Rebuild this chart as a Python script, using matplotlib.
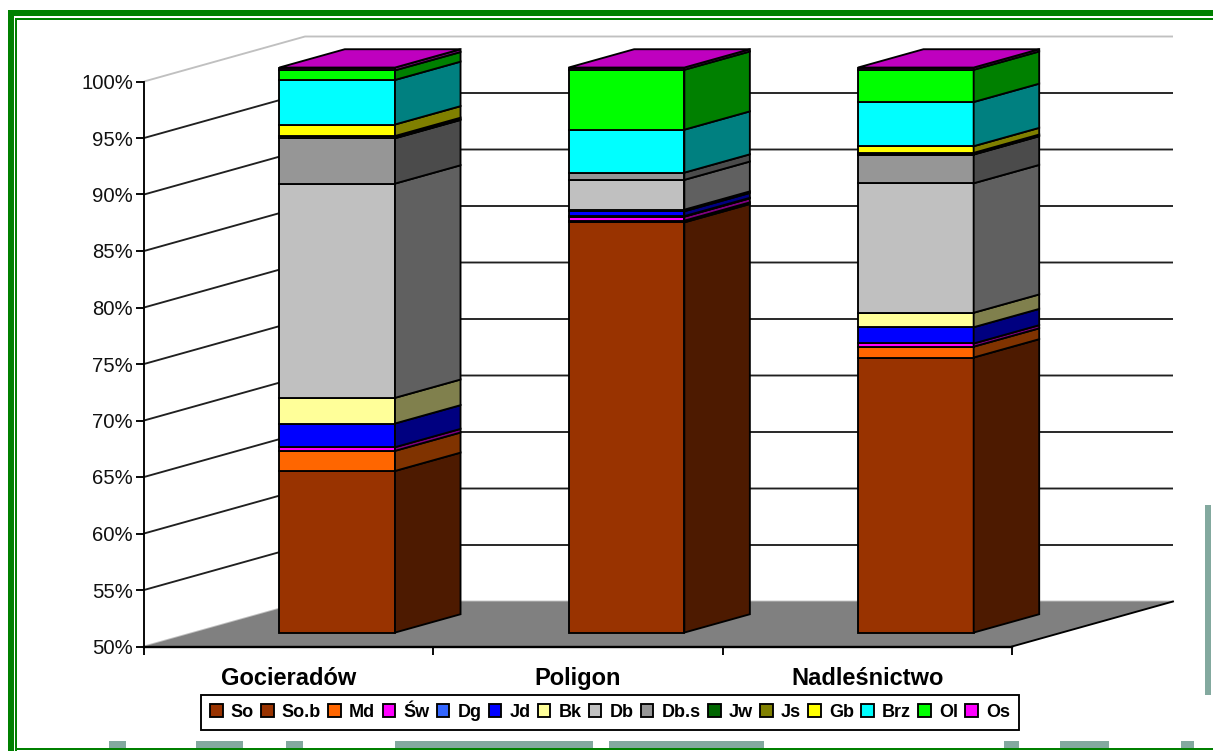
import numpy as np
import matplotlib
matplotlib.use("Agg")
import matplotlib.pyplot as plt
from matplotlib.patches import Polygon, Patch, Rectangle
from matplotlib.colors import to_rgb

plt.rcParams["font.family"] = ["Liberation Sans", "DejaVu Sans"]

W, H = 1213, 751

places = ["Gocieradów", "Poligon", "Nadleśnictwo"]
species = ["So", "So.b", "Md", "Św", "Dg", "Jd", "Bk", "Db", "Db.s", "Jw", "Js", "Gb", "Brz", "Ol", "Os"]
colors = ["#993300", "#993300", "#FF6600", "#FF00FF", "#3366FF", "#0000FF", "#FFFF99", "#C0C0C0",
          "#969696", "#006600", "#808000", "#FFFF00", "#00FFFF", "#00FF00", "#FF00FF"]

so = [64.30, 86.30, 74.34]
so_b = [0.00, 0.00, 0.00]
md = [1.78, 0.15, 0.96]
sw = [0.32, 0.35, 0.28]
dg = [0.00, 0.05, 0.00]
jd = [2.10, 0.43, 1.44]
bk = [2.27, 0.14, 1.28]
db = [18.96, 2.64, 11.46]
db_s = [4.01, 0.64, 2.54]
jw = [0.05, 0.00, 0.05]
js = [0.15, 0.00, 0.10]
gb = [1.02, 0.00, 0.59]
brz = [3.94, 3.80, 3.91]
ol = [0.85, 5.30, 2.85]
os_ = [0.25, 0.20, 0.20]
series = [so, so_b, md, sw, dg, jd, bk, db, db_s, jw, js, gb, brz, ol, os_]

yticks = list(range(50, 101, 5))

# oblique depth of the fake 3d box, in data units
DX = 161 / 289.33
DY = 45 / 11.3
BAR_W = 0.40
D0, D1 = 0.31, 0.717
LW = 1.35


def proj(x, y, d):
    return (x + DX * d, y + DY * d)


def shade(c, f):
    return tuple(v * f for v in to_rgb(c))


fig = plt.figure(figsize=(W / 100, H / 100), dpi=100, facecolor="white")

# page frame and the cut off background shapes
bg = fig.add_axes([0, 0, 1, 1])
bg.set_xlim(0, W)
bg.set_ylim(H, 0)
bg.axis("off")
green = "#008000"
ghost = "#83A99F"
for x0, x1 in [(109, 126), (196, 243), (286, 303), (395, 593), (609, 764), (1004, 1019), (1060, 1109), (1181, 1194)]:
    bg.add_patch(Rectangle((x0, 741), x1 - x0, 8, color=ghost, lw=0))
bg.add_patch(Rectangle((1205, 505), 6, 190, color=ghost, lw=0))
bg.add_patch(Rectangle((8, 10), W - 8, 6, color=green, lw=0))
bg.add_patch(Rectangle((15, 18), W - 15, 2, color=green, lw=0))
bg.add_patch(Rectangle((8, 10), 6, H - 10, color=green, lw=0))
bg.add_patch(Rectangle((15, 18), 2, H - 18, color=green, lw=0))
bg.add_patch(Rectangle((15, 748), W - 15, 2, color=green, lw=0))

ax = fig.add_axes([144 / W, (H - 646.5) / H, (1012 - 144) / W, 565 / H])
ax.set_xlim(0, 3)
ax.set_ylim(50, 100)
ax.patch.set_visible(False)
for s in ["top", "right"]:
    ax.spines[s].set_visible(False)
ax.spines["left"].set_linewidth(LW)
ax.spines["bottom"].set_linewidth(1.7)

# walls
for v in yticks:
    grey = v in (50, 100)
    c = "#C0C0C0" if grey else "#202020"
    p0 = proj(0, v, 0)
    p1 = proj(0, v, 1)
    p2 = proj(3, v, 1)
    ax.plot([p0[0], p1[0], p2[0]], [p0[1], p1[1], p2[1]], color=c, lw=LW, clip_on=False, zorder=1,
            solid_capstyle="butt")

# floor
floor = [proj(0, 50, 0), proj(3, 50, 0), proj(3, 50, 1), proj(0, 50, 1)]
ax.add_patch(Polygon(floor, closed=True, fc="#808080", ec="none", clip_on=False, zorder=2))
e0, e1 = proj(3, 50, 0), proj(3, 50, 1)
ax.plot([e0[0], e1[0]], [e0[1], e1[1]], color="black", lw=LW, clip_on=False, zorder=3)

# stacked boxes
for i in range(len(places)):
    x0 = i + 0.5 - BAR_W / 2 - 0.005
    x1 = x0 + BAR_W
    base = 50.0
    total = 0.0
    for vals, c in zip(series, colors):
        if vals[i] <= 0:
            continue
        total += vals[i]
        top = total
        front = [proj(x0, base, D0), proj(x1, base, D0), proj(x1, top, D0), proj(x0, top, D0)]
        side = [proj(x1, base, D0), proj(x1, base, D1), proj(x1, top, D1), proj(x1, top, D0)]
        ax.add_patch(Polygon(front, closed=True, fc=c, ec="black", lw=LW, clip_on=False, zorder=4))
        ax.add_patch(Polygon(side, closed=True, fc=shade(c, 0.5), ec="black", lw=LW, clip_on=False, zorder=4))
        base = top
    lid = [proj(x0, base, D0), proj(x1, base, D0), proj(x1, base, D1), proj(x0, base, D1)]
    ax.add_patch(Polygon(lid, closed=True, fc=shade(colors[-1], 0.75), ec="black", lw=LW, clip_on=False, zorder=5))

ax.set_yticks(yticks)
ax.set_yticklabels([f"{v}%" for v in yticks], fontsize=14.6, color="#111111")
ax.tick_params(axis="y", length=6, width=LW, pad=2)
ax.set_xticks([0, 1, 2, 3])
ax.set_xticklabels([])
ax.tick_params(axis="x", which="major", length=6, width=LW)
ax.set_xticks([0.5, 1.5, 2.5], minor=True)
ax.set_xticklabels(places, minor=True, fontsize=17, fontweight="bold")
ax.tick_params(axis="x", which="minor", length=0, pad=15)

handles = [Patch(fc=c, ec="black", lw=LW) for c in colors]
leg = fig.legend(handles, species, ncol=len(species), loc="lower left", mode="expand",
                 bbox_to_anchor=(201 / W, (H - 730) / H, 818 / W, 36 / H),
                 prop={"size": 13, "weight": "bold"}, frameon=True, fancybox=False,
                 edgecolor="black", framealpha=1, borderaxespad=0, borderpad=0.5,
                 handlelength=0.7, handleheight=0.7, handletextpad=0.45, columnspacing=0.5)
leg.get_frame().set_linewidth(LW)

fig.savefig("out.png", dpi=100)
